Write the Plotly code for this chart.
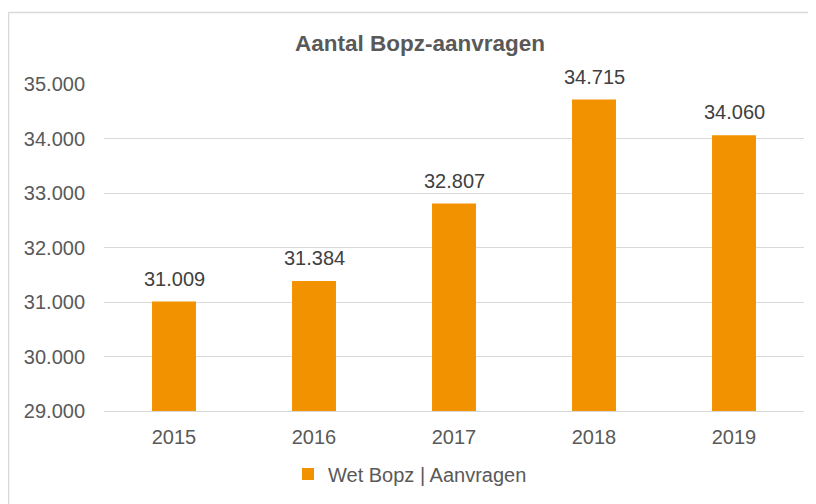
import plotly.graph_objects as go

years = ["2015", "2016", "2017", "2018", "2019"]
values = [31009, 31384, 32807, 34715, 34060]
labels = ["31.009", "31.384", "32.807", "34.715", "34.060"]
series_name = "Wet Bopz | Aanvragen"
title_text = "Aantal Bopz-aanvragen"

OFF = 8  # page body offset
W, H = 816 - OFF, 504 - OFF
L, T = 104 - OFF, 84 - OFF
R = W - (804 - OFF)
B = H - (411 - OFF)
pw, ph = W - L - R, H - T - B

def px(x):
    return (x - OFF - L) / pw

def py(y):
    return (H - B - (y - OFF)) / ph

def cx(x):
    return (x - OFF) / W

def cy(y):
    return 1 - (y - OFF) / H

fig = go.Figure()
fig.add_trace(go.Bar(
    x=years, y=values, name=series_name,
    marker=dict(color="#F39200", line=dict(width=0)),
    showlegend=True, hoverinfo="x+y",
))

for i, (v, lab) in enumerate(zip(values, labels)):
    fig.add_annotation(x=i, y=v, xref="x", yref="y", text=lab, showarrow=False,
                       yanchor="middle", yshift=23,
                       font=dict(family="Liberation Sans, Arial", size=20, color="#404040"))

fig.add_annotation(text="<b>" + title_text + "</b>", xref="paper", yref="paper",
                   x=px(419.5), y=py(43), xanchor="center", yanchor="middle",
                   showarrow=False, font=dict(size=22.5, color="#595959",
                                              family="Liberation Sans, Arial"))

frame = dict(color="#D9D9D9", width=1.5)

fig.update_layout(
    width=W, height=H,
    margin=dict(l=L, r=R, t=T, b=B, pad=0, autoexpand=False),
    paper_bgcolor="white", plot_bgcolor="white",
    bargap=0.686,
    separators=",.",
    font=dict(family="Liberation Sans, Arial", size=20, color="#595959"),
    xaxis=dict(type="category", categoryorder="array", categoryarray=years,
               range=[-0.5, len(years) - 0.5],
               showgrid=False, showline=True, linecolor="#D9D9D9", linewidth=1,
               ticks="", ticklabelstandoff=8,
               tickfont=dict(size=20, color="#595959")),
    yaxis=dict(range=[29000, 35000], dtick=1000, tickformat=",d",
               showgrid=True, gridcolor="#D9D9D9", gridwidth=1,
               zeroline=False, showline=False, ticks="", ticklabelstandoff=18,
               tickfont=dict(size=20, color="#595959")),
    showlegend=True,
    legend=dict(orientation="h", xref="container", yref="container",
                x=cx(288), xanchor="left", y=cy(474), yanchor="middle",
                font=dict(size=20, color="#595959"), bgcolor="rgba(0,0,0,0)"),
    shapes=[
        dict(type="line", xref="paper", yref="paper",
             x0=px(8.5), y0=py(12.5), x1=px(830), y1=py(12.5), line=frame, layer="below"),
        dict(type="line", xref="paper", yref="paper",
             x0=px(8.5), y0=py(12.5), x1=px(8.5), y1=py(530), line=frame, layer="below"),
    ],
)

fig.write_html("out.html")
